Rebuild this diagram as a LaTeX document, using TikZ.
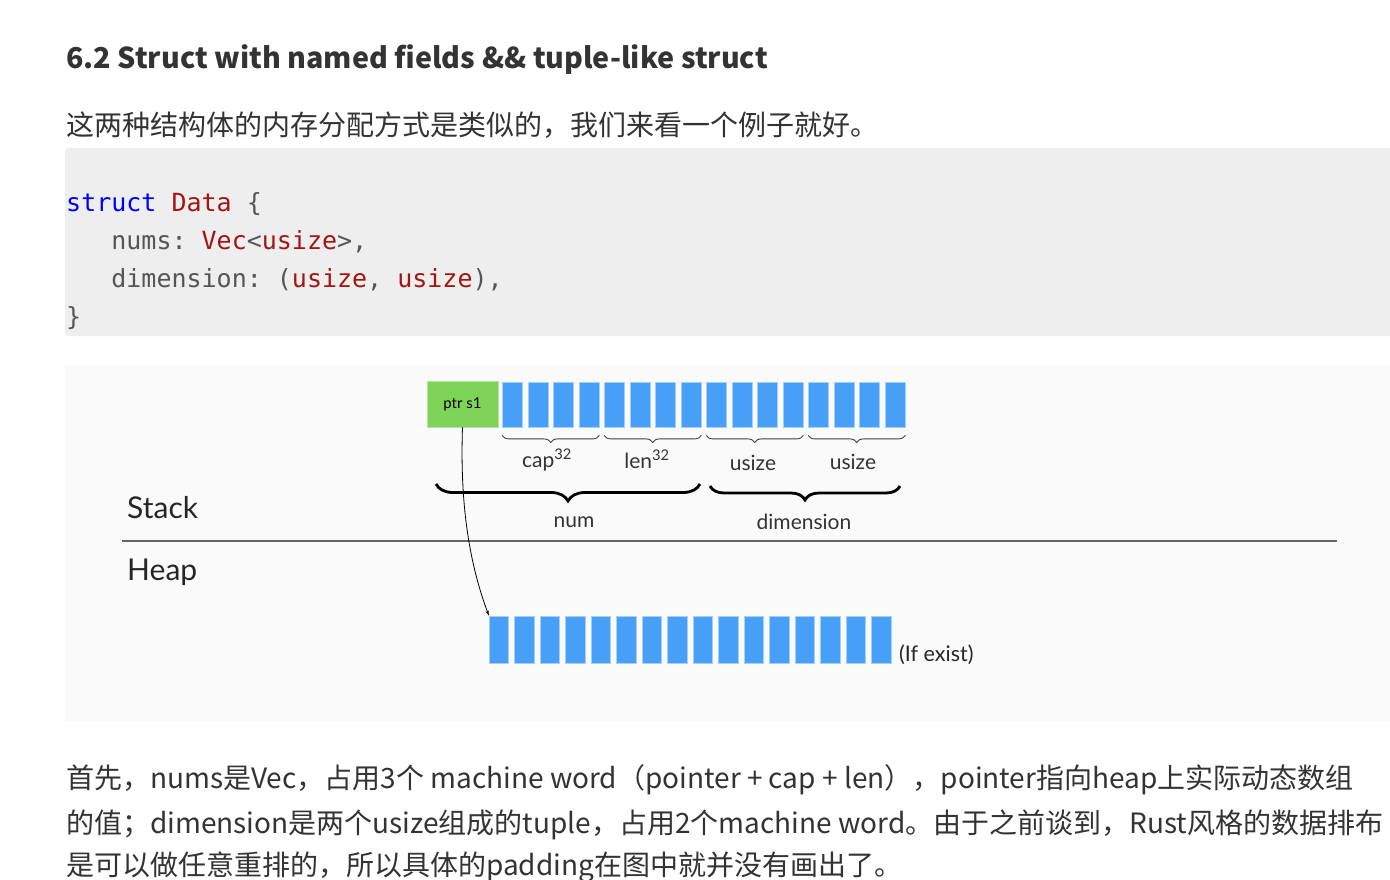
\documentclass[tikz,border=0pt]{standalone}
\usepackage{fontspec}
\setmainfont{Noto Sans CJK SC}
\newfontfamily\lato{Lato}
\setmonofont{DejaVu Sans Mono}
\usetikzlibrary{decorations.pathreplacing,arrows.meta}

\definecolor{txtgray}{HTML}{333333}
\definecolor{codebg}{HTML}{EEEEEE}
\definecolor{figbg}{HTML}{FAFAFA}
\definecolor{kwblue}{HTML}{0000FF}
\definecolor{tyred}{HTML}{A31515}
\definecolor{codegray}{HTML}{555555}
\definecolor{cellblue}{HTML}{479FF8}
\definecolor{ptrgreen}{HTML}{7ED456}

\tikzset{
  cell/.style={fill=cellblue, draw=cellblue!50!white, line width=0.8pt,
    minimum width=20pt, minimum height=45pt, inner sep=0pt},
  heapcell/.style={cell, minimum width=19.5pt, minimum height=47pt},
  ptrbox/.style={fill=ptrgreen, draw=ptrgreen!60!white, line width=0.8pt,
    minimum width=71pt, minimum height=46pt, inner sep=0pt,
    font=\lato\fontsize{15}{17}\selectfont},
  sbrace/.style={decorate, decoration={brace, mirror, amplitude=7pt}, line width=0.9pt, black!75},
  bbrace/.style={decorate, decoration={brace, mirror, amplitude=17pt}, line width=2.8pt, black},
  lbl/.style={font=\lato\fontsize{21}{24}\selectfont, text=black!80, inner sep=0pt},
  side/.style={font=\lato\fontsize{30}{34}\selectfont, text=black!85, anchor=west, inner sep=0pt},
  body/.style={font=\fontsize{28}{32}\selectfont, text=txtgray, anchor=west, inner sep=0pt},
  code/.style={font=\ttfamily\fontsize{25}{30}\selectfont, text=codegray, anchor=west, inner sep=0pt},
}

\begin{document}
\begin{tikzpicture}[x=1pt, y=-1pt]
  \useasboundingbox (0,0) rectangle (1390,880);
  \clip (0,0) rectangle (1390,880);
  \fill[white] (0,0) rectangle (1390,880);

  % page text
  \node[body, font=\bfseries\fontsize{28.7}{32}\selectfont] (title) at (66,60) {6.2 Struct with named fields \&\& tuple-like struct};
  \node[body] (intro) at (66,125) {这两种结构体的内存分配方式是类似的，我们来看一个例子就好。};

  % code block
  \fill[codebg, rounded corners=3pt] (65,148) rectangle (1400,336);
  \node[code] (c1) at (66,204) {\textcolor{kwblue}{struct} \textcolor{tyred}{Data} \{};
  \node[code] (c2) at (66,242) {\phantom{nnn}nums: \textcolor{tyred}{Vec}<\textcolor{tyred}{usize}>,};
  \node[code] (c3) at (66,280) {\phantom{nnn}dimension: (\textcolor{tyred}{usize}, \textcolor{tyred}{usize}),};
  \node[code] (c4) at (66,318) {\}};

  % figure
  \fill[figbg] (65,365) rectangle (1400,722);
  \node[ptrbox] (ptr) at (462.5,404) {ptr s1};
  \foreach \i in {1,...,16}
    \node[cell] (s\i) at ({512.5+25.5*(\i-1)}, 404.5) {};
  \foreach \i in {1,...,16}
    \node[heapcell] (h\i) at ({499+25.5*(\i-1)}, 639.5) {};

  \draw[sbrace] ([yshift=-8pt]s1.south west) -- ([yshift=-8pt]s4.south east);
  \draw[sbrace] ([yshift=-8pt]s5.south west) -- ([yshift=-8pt]s8.south east);
  \draw[sbrace] ([yshift=-8pt]s9.south west) -- ([yshift=-8pt]s12.south east);
  \draw[sbrace] ([yshift=-8pt]s13.south west) -- ([yshift=-8pt]s16.south east);
  \node[lbl] (cap) at (547,460) {cap\textsuperscript{32}};
  \node[lbl] (len) at (647,459) {len\textsuperscript{32}};
  \node[lbl] (u1) at (753,463) {usize};
  \node[lbl] (u2) at (853,462) {usize};

  \coordinate (numl) at (436,484);
  \coordinate (numr) at (700,484);
  \coordinate (diml) at (710,486);
  \coordinate (dimr) at (900,486);
  \draw[bbrace] (numl) -- (numr);
  \draw[bbrace, decoration={amplitude=14pt}] (diml) -- (dimr);
  \node[lbl] (num) at (574,522) {num};
  \node[lbl] (dim) at (804,522) {dimension};

  \node[side] (stack) at (127,508) {Stack};
  \node[side] (heap) at (127,572) {Heap};
  \draw[line width=1.8pt, black!60] (122,541) -- (1337,541);

  \draw[line width=0.8pt, -{Stealth[length=5pt, width=3pt]}] (ptr.south) .. controls (460,500) and (468,560) .. (h1.north west);
  \node[lbl, anchor=west, font=\lato\fontsize{21.5}{24}\selectfont, text=black!85] (exist) at (899,655) {(If exist)};

  % text below
  \node[body] (p1) at (66,780) {首先，nums是Vec，占用3个 machine word（pointer + cap + len），pointer指向heap上实际动态数组};
  \node[body] (p2) at (66,825) {的值；dimension是两个usize组成的tuple，占用2个machine word。由于之前谈到，Rust风格的数据排布};
  \node[body] (p3) at (66,867) {是可以做任意重排的，所以具体的padding在图中就并没有画出了。};
\end{tikzpicture}
\end{document}
